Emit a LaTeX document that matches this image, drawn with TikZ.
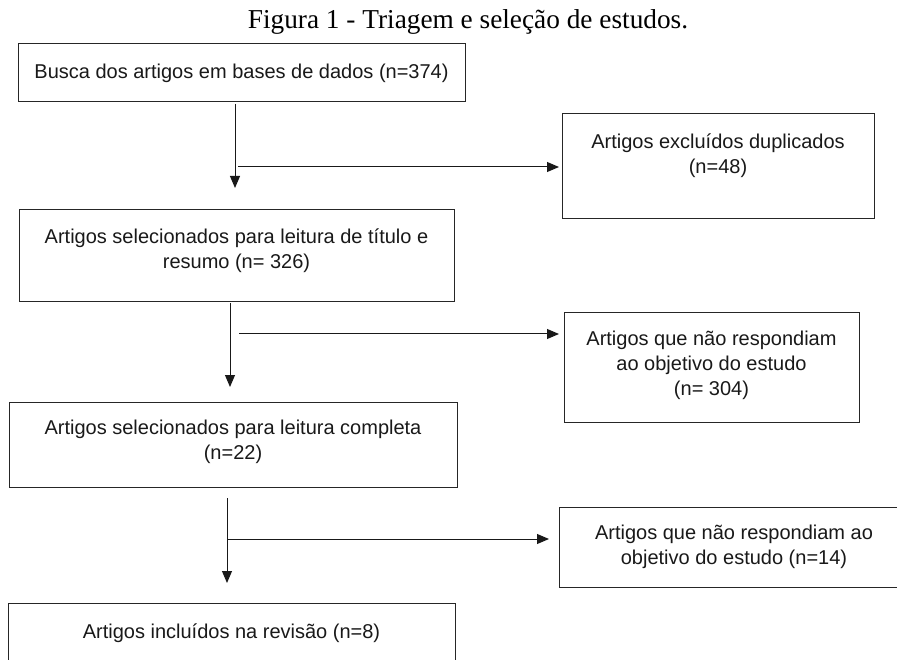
\documentclass[tikz,border=0pt]{standalone}
\usepackage{fontspec}
\setmainfont{Liberation Serif}
\newfontfamily\arialfont{Liberation Sans}
\usetikzlibrary{arrows.meta,calc}
\tikzset{
  boxnode/.style={draw=black!85, line width=1.1pt, rectangle, inner sep=0pt, anchor=north west},
  txt/.style={font=\arialfont\fontsize{20}{25}\selectfont, align=center, inner sep=0pt, text=black!90},
  conn/.style={line width=1pt, draw=black!90},
  arr/.style={conn, -{Triangle[length=12pt,width=10pt]}}
}
\begin{document}
\begin{tikzpicture}[x=1pt,y=-1pt]
\clip (0,0) rectangle (897,660);
\fill[white] (0,0) rectangle (897,660);
% title
\node[font=\fontsize{27.3}{31}\selectfont, anchor=base, inner sep=0pt] (title) at (468,29) {Figura 1 - Triagem e seleção de estudos.};
% boxes
\node[boxnode, minimum width=447pt, minimum height=58pt] (b1) at (18,43) {};
\node[boxnode, minimum width=312pt, minimum height=105pt] (b2) at (562,113) {};
\node[boxnode, minimum width=435pt, minimum height=92pt] (b3) at (19,209) {};
\node[boxnode, minimum width=295pt, minimum height=110pt] (b4) at (564,312) {};
\node[boxnode, minimum width=448pt, minimum height=85pt] (b5) at (9,402) {};
\node[boxnode, minimum width=350pt, minimum height=80pt] (b6) at (559,507) {};
\node[boxnode, minimum width=447pt, minimum height=90pt] (b7) at (8,603) {};
% texts
\node[txt, anchor=base] (t1) at (241.5,79) {Busca dos artigos em bases de dados (n=374)};
\node[txt] (t2) at (718,156) {Artigos excluídos duplicados\\(n=48)};
\node[txt] (t3) at (236.5,251) {Artigos selecionados para leitura de título e\\resumo (n= 326)};
\node[txt] (t4) at (711.5,365.5) {Artigos que não respondiam\\ao objetivo do estudo\\(n= 304)};
\node[txt] (t5) at (233,442) {Artigos selecionados para leitura completa\\(n=22)};
\node[txt] (t6) at (734,547) {Artigos que não respondiam ao\\objetivo do estudo (n=14)};
\node[txt, anchor=base] (t7) at (231.5,638) {Artigos incluídos na revisão (n=8)};
% connector points
\coordinate (v1s) at (235,104);
\coordinate (v1e) at (235,188);
\coordinate (h1s) at (238,167);
\coordinate (v2s) at (230,303);
\coordinate (v2e) at (230,387);
\coordinate (h2s) at (239,334);
\coordinate (v3s) at (227,498);
\coordinate (v3e) at (227,583);
\coordinate (h3s) at (227,539);
% connectors
\draw[arr] (v1s) -- (v1e);
\draw[arr, shorten >=3pt] (h1s) -- (h1s -| b2.west);
\draw[arr] (v2s) -- (v2e);
\draw[arr, shorten >=5pt] (h2s) -- (h2s -| b4.west);
\draw[arr] (v3s) -- (v3e);
\draw[arr, shorten >=10pt] (h3s) -- (h3s -| b6.west);
\end{tikzpicture}
\end{document}
